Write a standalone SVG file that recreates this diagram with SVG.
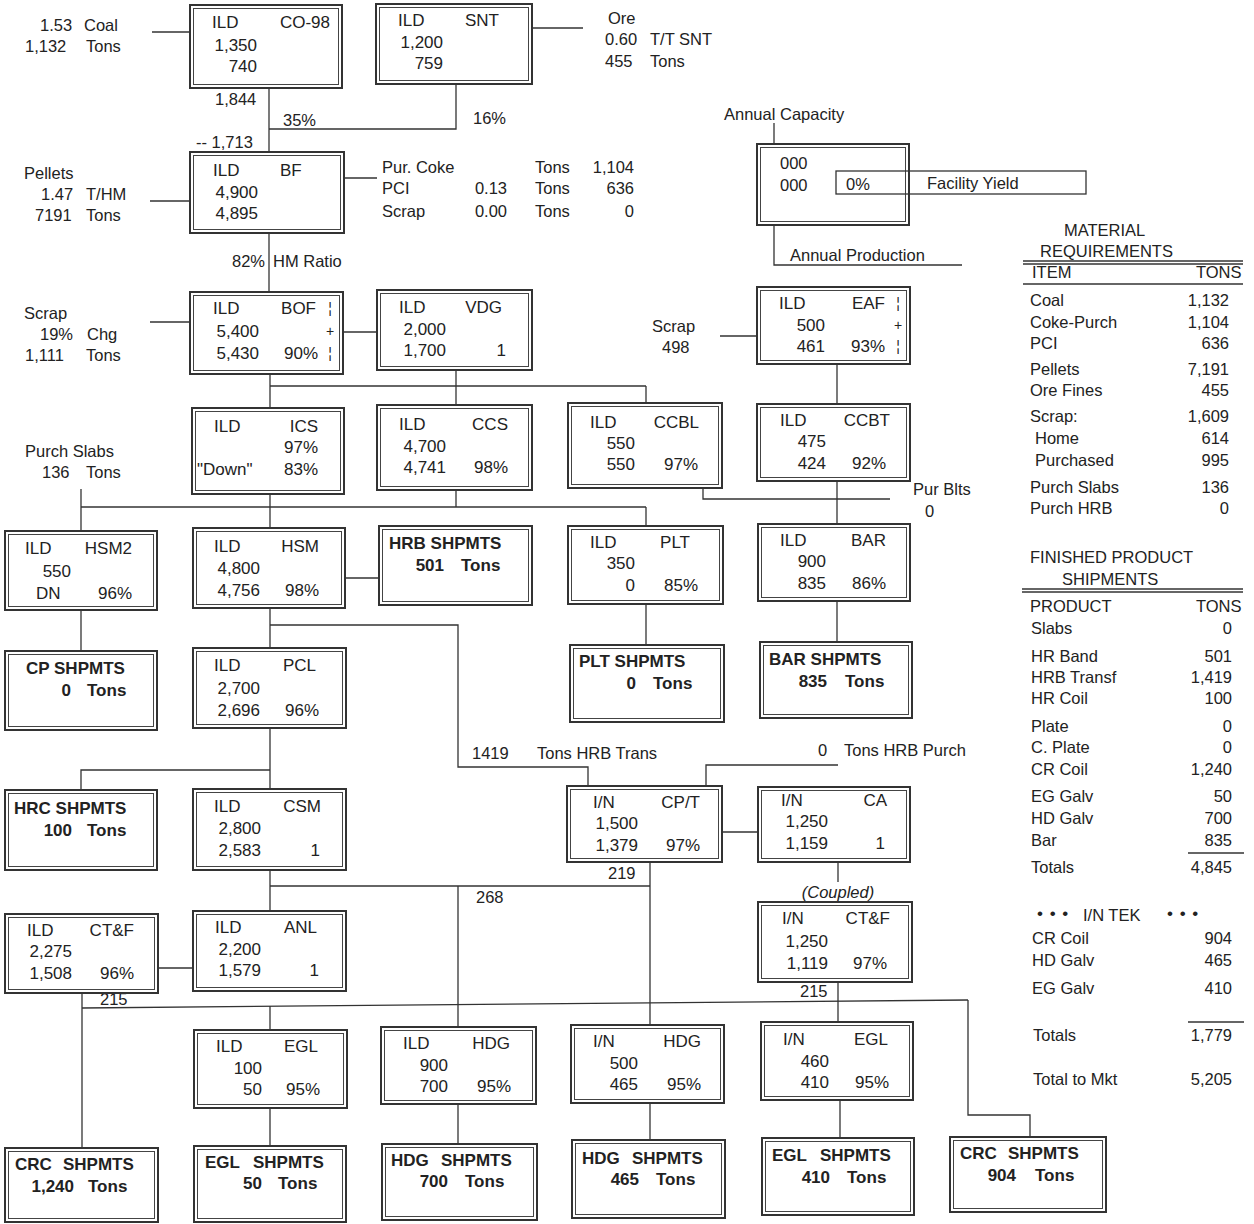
<svg xmlns="http://www.w3.org/2000/svg" width="1254" height="1224" viewBox="0 0 1254 1224">
<style>
text{font-family:"Liberation Sans",Arial,sans-serif;font-size:17px;fill:#222}
.l{font-size:16.5px}
.b{font-weight:bold}
.e{text-anchor:end}
.t{font-size:16.5px}
.o{fill:#fff;stroke:#333;stroke-width:2}
.i{fill:none;stroke:#444;stroke-width:1}
.c line,.c polyline{stroke:#333;stroke-width:1.3;fill:none}
.r{stroke:#333;stroke-width:1.3;fill:none}
.m{font-size:14px}
</style>
<rect width="1254" height="1224" fill="#fff"/>

<g class="c" id="connectors">
<line x1="152" y1="32" x2="190" y2="32"/>
<line x1="532" y1="28" x2="583" y2="28"/>
<polyline points="269,88 269,152"/>
<polyline points="456,84 456,129 269,129"/>
<line x1="150" y1="201" x2="190" y2="201"/>
<line x1="344" y1="178" x2="377" y2="178"/>
<line x1="269" y1="233" x2="269" y2="292"/>
<line x1="150" y1="322" x2="190" y2="322"/>
<line x1="343" y1="332" x2="377" y2="332"/>
<line x1="720" y1="336" x2="757" y2="336"/>
<line x1="270" y1="374" x2="270" y2="408"/>
<line x1="270" y1="386" x2="646" y2="386"/>
<line x1="646" y1="386" x2="646" y2="403"/>
<line x1="456" y1="370" x2="456" y2="405"/>
<line x1="837" y1="364" x2="837" y2="404"/>
<polyline points="703,488 703,499 890,499"/>
<line x1="837" y1="481" x2="837" y2="524"/>
<line x1="270" y1="494" x2="270" y2="528"/>
<line x1="81" y1="507" x2="646" y2="507"/>
<line x1="456" y1="490" x2="456" y2="507"/>
<line x1="646" y1="507" x2="646" y2="526"/>
<line x1="81" y1="489" x2="81" y2="531"/>
<line x1="345" y1="578" x2="379" y2="578"/>
<line x1="270" y1="608" x2="270" y2="648"/>
<polyline points="270,625 458,625 458,767 588,767 588,786"/>
<polyline points="706,786 706,765 838,765"/>
<line x1="81" y1="610" x2="81" y2="651"/>
<line x1="646" y1="604" x2="646" y2="645"/>
<line x1="837" y1="601" x2="837" y2="642"/>
<line x1="270" y1="728" x2="270" y2="789"/>
<polyline points="81,790 81,770 270,770"/>
<line x1="722" y1="832" x2="758" y2="832"/>
<line x1="838" y1="862" x2="838" y2="882"/>
<line x1="270" y1="870" x2="270" y2="911"/>
<line x1="270" y1="886" x2="650" y2="886"/>
<line x1="650" y1="862" x2="650" y2="1025"/>
<line x1="458" y1="886" x2="458" y2="1027"/>
<line x1="158" y1="968" x2="193" y2="968"/>
<line x1="82" y1="993" x2="82" y2="1148"/>
<line x1="82" y1="1008" x2="968" y2="1000"/>
<line x1="270" y1="1006" x2="270" y2="1030"/>
<line x1="838" y1="982" x2="838" y2="1022"/>
<polyline points="968,1000 968,1115 1030,1115 1030,1137"/>
<line x1="270" y1="1108" x2="270" y2="1146"/>
<line x1="458" y1="1104" x2="458" y2="1144"/>
<line x1="650" y1="1103" x2="650" y2="1140"/>
<line x1="840" y1="1100" x2="840" y2="1138"/>
</g>

<!-- free labels -->
<g id="labels">
<text class="l" x="40" y="31">1.53</text><text class="l" x="84" y="31">Coal</text>
<text class="l" x="25" y="52">1,132</text><text class="l" x="86" y="52">Tons</text>
<text class="l" x="608" y="24">Ore</text>
<text class="l" x="605" y="45">0.60</text><text class="l" x="650" y="45">T/T SNT</text>
<text class="l" x="605" y="67">455</text><text class="l" x="650" y="67">Tons</text>
<text class="l" x="215" y="105">1,844</text>
<text class="l" x="283" y="126">35%</text>
<text class="l" x="473" y="124">16%</text>
<text class="l" x="196" y="148">-- 1,713</text>
<text class="l" x="24" y="179">Pellets</text>
<text class="l" x="41" y="200">1.47</text><text class="l" x="86" y="200">T/HM</text>
<text class="l" x="35" y="221">7191</text><text class="l" x="86" y="221">Tons</text>
<text class="l" x="382" y="173">Pur. Coke</text>
<text class="l" x="382" y="194">PCI</text>
<text class="l" x="382" y="217">Scrap</text>
<text class="l e" x="507" y="194">0.13</text>
<text class="l e" x="507" y="217">0.00</text>
<text class="l" x="535" y="173">Tons</text>
<text class="l" x="535" y="194">Tons</text>
<text class="l" x="535" y="217">Tons</text>
<text class="l e" x="634" y="173">1,104</text>
<text class="l e" x="634" y="194">636</text>
<text class="l e" x="634" y="217">0</text>
<text class="l e" x="265" y="267">82%</text>
<text class="l" x="273" y="267">HM Ratio</text>
<text class="l" x="24" y="319">Scrap</text>
<text class="l" x="40" y="340">19%</text><text class="l" x="87" y="340">Chg</text>
<text class="l" x="25" y="361">1,111</text><text class="l" x="86" y="361">Tons</text>
<text class="l" x="652" y="332">Scrap</text>
<text class="l" x="662" y="353">498</text>
<text class="l" x="25" y="457">Purch Slabs</text>
<text class="l" x="42" y="478">136</text><text class="l" x="86" y="478">Tons</text>
<text class="l" x="913" y="495">Pur Blts</text>
<text class="l" x="925" y="517">0</text>
<text class="l" x="472" y="759">1419</text>
<text class="l" x="537" y="759">Tons HRB Trans</text>
<text class="l" x="818" y="756">0</text>
<text class="l" x="844" y="756">Tons HRB Purch</text>
<text class="l" x="608" y="879">219</text>
<text class="l" x="476" y="903">268</text>
<text class="l" x="838" y="898" text-anchor="middle" font-style="italic">(Coupled)</text>
<text class="l" x="100" y="1005">215</text>
<text class="l" x="800" y="997">215</text>
</g>

<!-- legend -->
<g id="legend">
<text class="l" x="724" y="120">Annual Capacity</text>
<line class="r" x1="774" y1="123" x2="774" y2="144"/>
<rect class="o" x="757" y="144" width="152" height="81"/>
<rect class="i" x="760.5" y="147.5" width="145" height="74"/>
<text class="l" x="780" y="169">000</text>
<text class="l" x="780" y="191">000</text>
<rect class="r" x="836" y="171" width="250" height="23"/>
<text class="l" x="846" y="190">0%</text>
<text class="l" x="927" y="189">Facility Yield</text>
<polyline class="r" points="774,225 774,265 962,265"/>
<text class="l" x="790" y="261">Annual Production</text>
</g>

<!-- nodes -->
<g id="n-co98"><rect class="o" x="190" y="5" width="152" height="83"/><rect class="i" x="193.5" y="8.5" width="145" height="76"/>
<text x="212" y="28">ILD</text><text class="e" x="330" y="28">CO-98</text><text class="e" x="257" y="51">1,350</text><text class="e" x="257" y="72">740</text></g>
<g id="n-snt"><rect class="o" x="376" y="4" width="156" height="80"/><rect class="i" x="379.5" y="7.5" width="149" height="73"/>
<text x="398" y="26">ILD</text><text class="e" x="499" y="26">SNT</text><text class="e" x="443" y="48">1,200</text><text class="e" x="443" y="69">759</text></g>
<g id="n-bf"><rect class="o" x="190" y="152" width="154" height="81"/><rect class="i" x="193.5" y="155.5" width="147" height="74"/>
<text x="213" y="176">ILD</text><text x="280" y="176">BF</text><text class="e" x="258" y="198">4,900</text><text class="e" x="258" y="219">4,895</text></g>
<g id="n-bof"><rect class="o" x="190" y="292" width="153" height="82"/><rect class="i" x="193.5" y="295.5" width="146" height="75"/>
<text x="213" y="314">ILD</text><text class="e" x="316" y="314">BOF</text><text class="e" x="259" y="337">5,400</text><text class="e" x="259" y="359">5,430</text><text class="e" x="318" y="359">90%</text>
<text class="m" x="330" y="313" text-anchor="middle">¦</text><text class="m" x="330" y="336" text-anchor="middle">+</text><text class="m" x="330" y="358" text-anchor="middle">¦</text></g>
<g id="n-vdg"><rect class="o" x="377" y="290" width="155" height="80"/><rect class="i" x="380.5" y="293.5" width="148" height="73"/>
<text x="399" y="313">ILD</text><text class="e" x="502" y="313">VDG</text><text class="e" x="446" y="335">2,000</text><text class="e" x="446" y="356">1,700</text><text class="e" x="506" y="356">1</text></g>
<g id="n-eaf"><rect class="o" x="757" y="287" width="153" height="77"/><rect class="i" x="760.5" y="290.5" width="146" height="70"/>
<text x="779" y="309">ILD</text><text class="e" x="885" y="309">EAF</text><text class="e" x="825" y="331">500</text><text class="e" x="825" y="352">461</text><text class="e" x="885" y="352">93%</text>
<text class="m" x="898" y="308" text-anchor="middle">¦</text><text class="m" x="898" y="330" text-anchor="middle">+</text><text class="m" x="898" y="351" text-anchor="middle">¦</text></g>
<g id="n-ics"><rect class="o" x="192" y="408" width="152" height="86"/><rect class="i" x="195.5" y="411.5" width="145" height="79"/>
<text x="214" y="432">ILD</text><text class="e" x="318" y="432">ICS</text><text class="e" x="318" y="453">97%</text><text x="197" y="475">"Down"</text><text class="e" x="318" y="475">83%</text></g>
<g id="n-ccs"><rect class="o" x="377" y="405" width="155" height="85"/><rect class="i" x="380.5" y="408.5" width="148" height="78"/>
<text x="399" y="430">ILD</text><text class="e" x="508" y="430">CCS</text><text class="e" x="446" y="452">4,700</text><text class="e" x="446" y="473">4,741</text><text class="e" x="508" y="473">98%</text></g>
<g id="n-ccbl"><rect class="o" x="568" y="403" width="154" height="85"/><rect class="i" x="571.5" y="406.5" width="147" height="78"/>
<text x="590" y="428">ILD</text><text class="e" x="699" y="428">CCBL</text><text class="e" x="635" y="449">550</text><text class="e" x="635" y="470">550</text><text class="e" x="698" y="470">97%</text></g>
<g id="n-ccbt"><rect class="o" x="757" y="404" width="153" height="77"/><rect class="i" x="760.5" y="407.5" width="146" height="70"/>
<text x="780" y="426">ILD</text><text class="e" x="890" y="426">CCBT</text><text class="e" x="826" y="447">475</text><text class="e" x="826" y="469">424</text><text class="e" x="886" y="469">92%</text></g>
<g id="n-hsm2"><rect class="o" x="5" y="531" width="152" height="79"/><rect class="i" x="8.5" y="534.5" width="145" height="72"/>
<text x="25" y="554">ILD</text><text class="e" x="132" y="554">HSM2</text><text class="e" x="71" y="577">550</text><text x="36" y="599">DN</text><text class="e" x="132" y="599">96%</text></g>
<g id="n-hsm"><rect class="o" x="193" y="528" width="152" height="80"/><rect class="i" x="196.5" y="531.5" width="145" height="73"/>
<text x="214" y="552">ILD</text><text class="e" x="319" y="552">HSM</text><text class="e" x="260" y="574">4,800</text><text class="e" x="260" y="596">4,756</text><text class="e" x="319" y="596">98%</text></g>
<g id="n-hrbshp"><rect class="o" x="379" y="526" width="153" height="79"/><rect class="i" x="382.5" y="529.5" width="146" height="72"/>
<text class="b" x="389" y="549">HRB SHPMTS</text><text class="b e" x="444" y="571">501</text><text class="b" x="461" y="571">Tons</text></g>
<g id="n-plt"><rect class="o" x="568" y="526" width="155" height="78"/><rect class="i" x="571.5" y="529.5" width="148" height="71"/>
<text x="590" y="548">ILD</text><text class="e" x="690" y="548">PLT</text><text class="e" x="635" y="569">350</text><text class="e" x="635" y="591">0</text><text class="e" x="698" y="591">85%</text></g>
<g id="n-bar"><rect class="o" x="758" y="524" width="152" height="77"/><rect class="i" x="761.5" y="527.5" width="145" height="70"/>
<text x="780" y="546">ILD</text><text class="e" x="886" y="546">BAR</text><text class="e" x="826" y="567">900</text><text class="e" x="826" y="589">835</text><text class="e" x="886" y="589">86%</text></g>
<g id="n-cpshp"><rect class="o" x="5" y="651" width="152" height="79"/><rect class="i" x="8.5" y="654.5" width="145" height="72"/>
<text class="b" x="26" y="674">CP SHPMTS</text><text class="b e" x="71" y="696">0</text><text class="b" x="87" y="696">Tons</text></g>
<g id="n-pcl"><rect class="o" x="193" y="648" width="153" height="80"/><rect class="i" x="196.5" y="651.5" width="146" height="73"/>
<text x="214" y="671">ILD</text><text class="e" x="316" y="671">PCL</text><text class="e" x="260" y="694">2,700</text><text class="e" x="260" y="716">2,696</text><text class="e" x="319" y="716">96%</text></g>
<g id="n-pltshp"><rect class="o" x="570" y="645" width="154" height="77"/><rect class="i" x="573.5" y="648.5" width="147" height="70"/>
<text class="b" x="579" y="667">PLT SHPMTS</text><text class="b e" x="636" y="689">0</text><text class="b" x="653" y="689">Tons</text></g>
<g id="n-barshp"><rect class="o" x="760" y="642" width="152" height="76"/><rect class="i" x="763.5" y="645.5" width="145" height="69"/>
<text class="b" x="769" y="665">BAR SHPMTS</text><text class="b e" x="827" y="687">835</text><text class="b" x="845" y="687">Tons</text></g>
<g id="n-hrcshp"><rect class="o" x="5" y="790" width="152" height="80"/><rect class="i" x="8.5" y="793.5" width="145" height="73"/>
<text class="b" x="14" y="814">HRC SHPMTS</text><text class="b e" x="72" y="836">100</text><text class="b" x="87" y="836">Tons</text></g>
<g id="n-csm"><rect class="o" x="193" y="789" width="153" height="81"/><rect class="i" x="196.5" y="792.5" width="146" height="74"/>
<text x="214" y="812">ILD</text><text class="e" x="321" y="812">CSM</text><text class="e" x="261" y="834">2,800</text><text class="e" x="261" y="856">2,583</text><text class="e" x="320" y="856">1</text></g>
<g id="n-cpt"><rect class="o" x="567" y="786" width="155" height="76"/><rect class="i" x="570.5" y="789.5" width="148" height="69"/>
<text x="593" y="808">I/N</text><text class="e" x="700" y="808">CP/T</text><text class="e" x="638" y="829">1,500</text><text class="e" x="638" y="851">1,379</text><text class="e" x="700" y="851">97%</text></g>
<g id="n-ca"><rect class="o" x="758" y="787" width="152" height="75"/><rect class="i" x="761.5" y="790.5" width="145" height="68"/>
<text x="781" y="806">I/N</text><text class="e" x="887" y="806">CA</text><text class="e" x="828" y="827">1,250</text><text class="e" x="828" y="849">1,159</text><text class="e" x="885" y="849">1</text></g>
<g id="n-inctf"><rect class="o" x="758" y="902" width="154" height="80"/><rect class="i" x="761.5" y="905.5" width="147" height="73"/>
<text x="782" y="924">I/N</text><text class="e" x="890" y="924">CT&amp;F</text><text class="e" x="828" y="947">1,250</text><text class="e" x="828" y="969">1,119</text><text class="e" x="887" y="969">97%</text></g>
<g id="n-anl"><rect class="o" x="193" y="911" width="153" height="80"/><rect class="i" x="196.5" y="914.5" width="146" height="73"/>
<text x="215" y="933">ILD</text><text class="e" x="317" y="933">ANL</text><text class="e" x="261" y="955">2,200</text><text class="e" x="261" y="976">1,579</text><text class="e" x="319" y="976">1</text></g>
<g id="n-ildctf"><rect class="o" x="5" y="914" width="153" height="79"/><rect class="i" x="8.5" y="917.5" width="146" height="72"/>
<text x="27" y="936">ILD</text><text class="e" x="134" y="936">CT&amp;F</text><text class="e" x="72" y="957">2,275</text><text class="e" x="72" y="979">1,508</text><text class="e" x="134" y="979">96%</text></g>
<g id="n-ildegl"><rect class="o" x="194" y="1030" width="153" height="78"/><rect class="i" x="197.5" y="1033.5" width="146" height="71"/>
<text x="216" y="1052">ILD</text><text class="e" x="318" y="1052">EGL</text><text class="e" x="262" y="1074">100</text><text class="e" x="262" y="1095">50</text><text class="e" x="320" y="1095">95%</text></g>
<g id="n-ildhdg"><rect class="o" x="381" y="1027" width="155" height="77"/><rect class="i" x="384.5" y="1030.5" width="148" height="70"/>
<text x="403" y="1049">ILD</text><text class="e" x="510" y="1049">HDG</text><text class="e" x="448" y="1071">900</text><text class="e" x="448" y="1092">700</text><text class="e" x="511" y="1092">95%</text></g>
<g id="n-inhdg"><rect class="o" x="571" y="1025" width="153" height="78"/><rect class="i" x="574.5" y="1028.5" width="146" height="71"/>
<text x="593" y="1047">I/N</text><text class="e" x="701" y="1047">HDG</text><text class="e" x="638" y="1069">500</text><text class="e" x="638" y="1090">465</text><text class="e" x="701" y="1090">95%</text></g>
<g id="n-inegl"><rect class="o" x="761" y="1022" width="152" height="78"/><rect class="i" x="764.5" y="1025.5" width="145" height="71"/>
<text x="783" y="1045">I/N</text><text class="e" x="888" y="1045">EGL</text><text class="e" x="829" y="1067">460</text><text class="e" x="829" y="1088">410</text><text class="e" x="889" y="1088">95%</text></g>
<g id="n-crc1"><rect class="o" x="5" y="1148" width="153" height="74"/><rect class="i" x="8.5" y="1151.5" width="146" height="67"/>
<text class="b" x="15" y="1170">CRC</text><text class="b" x="63" y="1170">SHPMTS</text><text class="b e" x="74" y="1192">1,240</text><text class="b" x="88" y="1192">Tons</text></g>
<g id="n-egl1"><rect class="o" x="194" y="1146" width="152" height="76"/><rect class="i" x="197.5" y="1149.5" width="145" height="69"/>
<text class="b" x="205" y="1168">EGL</text><text class="b" x="253" y="1168">SHPMTS</text><text class="b e" x="262" y="1189">50</text><text class="b" x="278" y="1189">Tons</text></g>
<g id="n-hdg1"><rect class="o" x="382" y="1144" width="155" height="76"/><rect class="i" x="385.5" y="1147.5" width="148" height="69"/>
<text class="b" x="391" y="1166">HDG</text><text class="b" x="441" y="1166">SHPMTS</text><text class="b e" x="448" y="1187">700</text><text class="b" x="465" y="1187">Tons</text></g>
<g id="n-hdg2"><rect class="o" x="572" y="1140" width="153" height="78"/><rect class="i" x="575.5" y="1143.5" width="146" height="71"/>
<text class="b" x="582" y="1164">HDG</text><text class="b" x="632" y="1164">SHPMTS</text><text class="b e" x="639" y="1185">465</text><text class="b" x="656" y="1185">Tons</text></g>
<g id="n-egl2"><rect class="o" x="762" y="1138" width="152" height="77"/><rect class="i" x="765.5" y="1141.5" width="145" height="70"/>
<text class="b" x="772" y="1161">EGL</text><text class="b" x="820" y="1161">SHPMTS</text><text class="b e" x="830" y="1183">410</text><text class="b" x="847" y="1183">Tons</text></g>
<g id="n-crc2"><rect class="o" x="950" y="1137" width="156" height="75"/><rect class="i" x="953.5" y="1140.5" width="149" height="68"/>
<text class="b" x="960" y="1159">CRC</text><text class="b" x="1008" y="1159">SHPMTS</text><text class="b e" x="1016" y="1181">904</text><text class="b" x="1035" y="1181">Tons</text></g>

<!-- material requirements table -->
<g id="material-requirements">
<text class="t" x="1064" y="236">MATERIAL</text>
<text class="t" x="1040" y="257">REQUIREMENTS</text>
<line class="r" x1="1023" y1="261" x2="1243" y2="261" stroke-width="1.6"/>
<line class="r" x1="1023" y1="264" x2="1243" y2="264"/>
<text class="t" x="1032" y="278">ITEM</text><text class="t" x="1196" y="278">TONS</text>
<line class="r" x1="1023" y1="284" x2="1243" y2="284"/>
<text class="t" x="1030" y="306">Coal</text><text class="t e" x="1229" y="306">1,132</text>
<text class="t" x="1030" y="328">Coke-Purch</text><text class="t e" x="1229" y="328">1,104</text>
<text class="t" x="1030" y="349">PCI</text><text class="t e" x="1229" y="349">636</text>
<text class="t" x="1030" y="375">Pellets</text><text class="t e" x="1229" y="375">7,191</text>
<text class="t" x="1030" y="396">Ore Fines</text><text class="t e" x="1229" y="396">455</text>
<text class="t" x="1030" y="422">Scrap:</text><text class="t e" x="1229" y="422">1,609</text>
<text class="t" x="1035" y="444">Home</text><text class="t e" x="1229" y="444">614</text>
<text class="t" x="1035" y="466">Purchased</text><text class="t e" x="1229" y="466">995</text>
<text class="t" x="1030" y="493">Purch Slabs</text><text class="t e" x="1229" y="493">136</text>
<text class="t" x="1030" y="514">Purch HRB</text><text class="t e" x="1229" y="514">0</text>
</g>

<!-- finished product table -->
<g id="finished-product">
<text class="t" x="1030" y="563">FINISHED PRODUCT</text>
<text class="t" x="1062" y="585">SHIPMENTS</text>
<line class="r" x1="1022" y1="589" x2="1243" y2="589" stroke-width="1.6"/>
<line class="r" x1="1022" y1="592" x2="1243" y2="592"/>
<text class="t" x="1030" y="612">PRODUCT</text><text class="t" x="1196" y="612">TONS</text>
<text class="t" x="1031" y="634">Slabs</text><text class="t e" x="1232" y="634">0</text>
<text class="t" x="1031" y="662">HR Band</text><text class="t e" x="1232" y="662">501</text>
<text class="t" x="1031" y="683">HRB Transf</text><text class="t e" x="1232" y="683">1,419</text>
<text class="t" x="1031" y="704">HR Coil</text><text class="t e" x="1232" y="704">100</text>
<text class="t" x="1031" y="732">Plate</text><text class="t e" x="1232" y="732">0</text>
<text class="t" x="1031" y="753">C. Plate</text><text class="t e" x="1232" y="753">0</text>
<text class="t" x="1031" y="775">CR Coil</text><text class="t e" x="1232" y="775">1,240</text>
<text class="t" x="1031" y="802">EG Galv</text><text class="t e" x="1232" y="802">50</text>
<text class="t" x="1031" y="824">HD Galv</text><text class="t e" x="1232" y="824">700</text>
<text class="t" x="1031" y="846">Bar</text><text class="t e" x="1232" y="846">835</text>
<line class="r" x1="1188" y1="853" x2="1244" y2="853"/>
<text class="t" x="1031" y="873">Totals</text><text class="t e" x="1232" y="873">4,845</text>
</g>

<!-- I/N TEK table -->
<g id="in-tek">
<text x="1037" y="919" font-size="9" letter-spacing="1">• • •</text>
<text class="t" x="1083" y="921" font-size="16">I/N TEK</text>
<text x="1167" y="919" font-size="9" letter-spacing="1">• • •</text>
<text class="t" x="1032" y="944">CR Coil</text><text class="t e" x="1232" y="944">904</text>
<text class="t" x="1032" y="966">HD Galv</text><text class="t e" x="1232" y="966">465</text>
<text class="t" x="1032" y="994">EG Galv</text><text class="t e" x="1232" y="994">410</text>
<line class="r" x1="1188" y1="1022" x2="1244" y2="1022"/>
<text class="t" x="1033" y="1041">Totals</text><text class="t e" x="1232" y="1041">1,779</text>
<text class="t" x="1033" y="1085">Total to Mkt</text><text class="t e" x="1232" y="1085">5,205</text>
</g>
</svg>
